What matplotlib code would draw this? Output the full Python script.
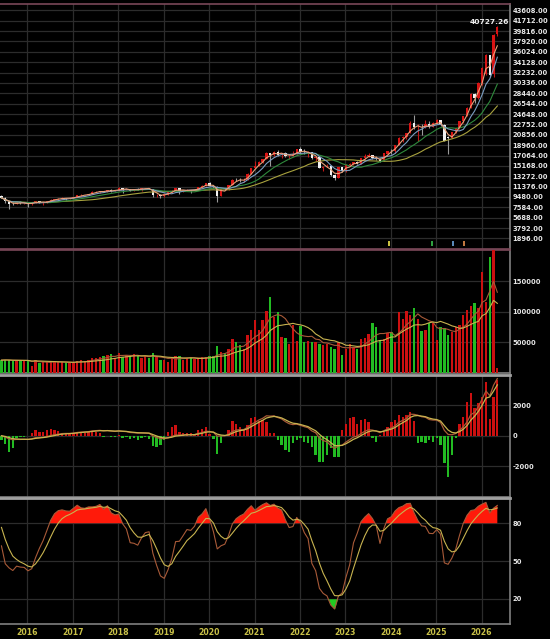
import numpy as np
import pandas as pd
import matplotlib
matplotlib.use("Agg")
import matplotlib.pyplot as plt

# monthly bars, index 0 = Jan 2016 (first bar Jun 2015, last bar May 2026)
first_idx = -7
opens = [
    9700, 9300, 8650, 8200, 8200, 8560, 8320,
    8340, 8140, 8420, 8740, 8380, 8540, 8670, 9010, 9070, 9170, 9290, 9240,
    9260, 9450, 9750, 9810, 9870, 10040, 10400, 10430, 10590, 10390, 10800, 10560,
    10650, 11100, 10820, 10920, 10660, 10880, 10840, 11060, 11070, 11000, 9800, 9890,
    9730, 9930, 10390, 10640, 11060, 10500, 10730, 10820, 10620, 10830, 11360, 11490,
    12000, 11500, 11290, 9710, 10990, 10940, 11620, 12660, 12590, 12520, 12550, 13720,
    14730, 15140, 15950, 16430, 17570, 17070, 17760, 17250, 17490, 16940, 16990, 17430,
    18220, 17670, 17650, 17690, 16590, 16810, 14830, 15000, 15100, 13420, 12950, 14880,
    14140, 15270, 15500, 15870, 15580, 16580, 16920, 17150, 16630, 16350, 16000, 17430,
    17930, 17890, 18970, 20290, 20400, 21170, 23030, 22200, 22270, 22230, 22820, 22260,
    23040, 23530, 22700, 20400, 20240, 21350, 22060, 23290, 24230, 25820, 28230, 27630,
    30400, 31900, 35400, 31900, 39300,
]
highs = [
    9760, 9400, 8700, 8500, 8700, 8660, 8450,
    8360, 8450, 8780, 8780, 8560, 8760, 9030, 9100, 9250, 9400, 9300, 9330,
    9500, 9760, 9970, 9920, 10100, 10510, 10520, 10620, 10620, 10800, 10850, 10660,
    11270, 11150, 11050, 11000, 10950, 11110, 11060, 11210, 11070, 11000, 10000, 10100,
    10000, 10390, 10700, 11100, 11100, 10800, 10970, 10800, 10900, 11370, 11600, 12000,
    12200, 11650, 11400, 11050, 11110, 11650, 12770, 12950, 12900, 12980, 13800, 14760,
    16050, 16050, 16500, 17620, 17600, 17910, 18034, 17600, 17620, 17100, 17800, 18250,
    18620, 18200, 17950, 17700, 16900, 16900, 15120, 15500, 15220, 13700, 14900, 15000,
    15500, 15700, 15900, 16000, 16600, 17280, 17460, 16940, 16900, 16600, 17460, 17950,
    18200, 19000, 20400, 20600, 21200, 23300, 24416, 22800, 22800, 23600, 23400, 23200,
    23800, 23600, 22800, 20600, 21400, 22100, 23300, 24300, 25900, 28500, 28550, 30500,
    33200, 35600, 35500, 39300, 40727.26,
]
lows = [
    9200, 8400, 7203, 8000, 8150, 8240, 8200,
    7630, 8050, 8400, 8330, 8060, 8400, 8650, 8950, 8900, 9150, 8880, 9100,
    9200, 9400, 9690, 9600, 9820, 10000, 10300, 10200, 10300, 10390, 10450, 10460,
    10600, 10200, 10800, 10500, 10500, 10680, 10600, 10880, 10850, 9400, 9500, 9320,
    9400, 9900, 10200, 10580, 10100, 10350, 10640, 10250, 10550, 10800, 11300, 11400,
    11400, 11050, 8523, 9650, 10700, 10800, 11600, 12450, 12230, 12300, 12500, 13700,
    14700, 15100, 15700, 16400, 15160, 17000, 17000, 16600, 16800, 16400, 16960, 17400,
    17400, 17350, 16700, 16500, 16000, 14820, 14300, 14900, 13400, 12629, 12950, 14000,
    14100, 15200, 15250, 15500, 15500, 16500, 16800, 16430, 16200, 15880, 16000, 17300,
    17300, 17600, 18900, 19600, 20100, 21100, 21900, 19660, 20900, 22100, 22100, 22200,
    22800, 22500, 19800, 17306, 20200, 21100, 22000, 23000, 24200, 25700, 26700, 27400,
    30000, 31800, 31500, 31500, 39000,
]
closes = [
    9323, 8665, 8175, 8181, 8554, 8320, 8338,
    8145, 8411, 8744, 8377, 8536, 8667, 9008, 9069, 9167, 9290, 9240, 9254,
    9448, 9750, 9812, 9872, 10041, 10395, 10427, 10586, 10384, 10794, 10560, 10643,
    11104, 10815, 10919, 10657, 10875, 10837, 11057, 11064, 10998, 9802, 9888, 9727,
    9932, 10389, 10641, 11063, 10498, 10731, 10824, 10618, 10830, 11358, 11490, 11997,
    11495, 11292, 9708, 10992, 10943, 11621, 12665, 12592, 12516, 12546, 13723, 14733,
    15138, 15953, 16431, 17567, 17068, 17755, 17247, 17490, 16935, 16987, 17428, 18219,
    17674, 17652, 17693, 16593, 16808, 14826, 15000, 15095, 13425, 12949, 14880, 14138,
    15265, 15504, 15868, 15579, 16579, 16916, 17145, 16634, 16354, 16001, 17434, 17931,
    17890, 18967, 20294, 20397, 21174, 23033, 22199, 22268, 22225, 22820, 22263, 23035,
    23526, 22706, 19802, 20235, 21347, 22064, 23288, 24233, 25822, 28234, 27627, 30400,
    33000, 35500, 31700, 39200, 40500,
]
volumes = [
    21000, 21500, 21000, 20000, 20500, 20000, 20000,
    21000, 11500, 22000, 16500, 17500, 18000, 19000, 18500, 18000, 17500, 17000, 16500,
    17000, 19000, 22000, 19000, 21000, 25000, 24000, 26000, 28000, 29000, 31000, 25000,
    33000, 26000, 30000, 27000, 31000, 27000, 24000, 27000, 24000, 33000, 26000, 21000,
    21000, 18000, 26000, 27000, 27000, 22000, 24000, 26000, 23000, 25000, 26000, 26000,
    27000, 27000, 44000, 34000, 33000, 40000, 55000, 50000, 45000, 40000, 62000, 71000,
    87000, 71000, 86000, 101000, 124000, 91000, 100000, 59000, 58000, 48000, 78000, 52000,
    76000, 50000, 53000, 51000, 50000, 47000, 46000, 47000, 42000, 39000, 50000, 29000,
    40000, 48000, 43000, 40000, 55000, 58000, 63000, 82000, 75000, 54000, 55000, 65000,
    67000, 51000, 100000, 89000, 101000, 94000, 107000, 89000, 69000, 71000, 82000, 81000,
    54000, 75500, 73000, 62000, 67000, 75000, 78000, 94000, 103000, 109000, 115000, 107000,
    165000, 116000, 190000, 205000, 8700,
]
# MACD histogram read bar by bar
macd_hist = [
    -250, -520, -1050, -800, -120, -90, -60,
    -40, 150, 400, 260, 220, 370, 460, 400, 330, 200, 150, 110,
    200, 230, 250, 200, 220, 250, 260, 150, -60, -40, -100, -60,
    40, -150, -100, -200, -150, -250, -150, -100, -200, -680, -720, -610,
    -280, 260, 590, 700, 260, 150, 150, 150, 80, 370, 440, 590,
    100, -220, -1200, -500, -30, 370, 980, 800, 590, 370, 700, 1130,
    1240, 960, 1020, 910, 150, 150, -280, -610, -940, -1050, -500, -280,
    -170, -390, -500, -720, -1260, -1700, -1700, -1260, -830, -1370, -1370, 370,
    800, 1130, 1240, 800, 1020, 1090, 910, -170, -390, 80, 260, 590,
    910, 1020, 1350, 1240, 1350, 1570, 980, -500, -390, -500, -280, -390,
    -170, -610, -1800, -2680, -1260, -170, 800, 1240, 2220, 2770, 1790, 2110,
    2550, 3530, 1070, 2550, 3640,
]
years = list(range(2016, 2027))
price_ticks = [1896 * i for i in range(1, 24)]
last_high_label = "40727.26"
# small event flags at the bottom of the price panel
event_idx = [95.4, 106.7, 112.3, 115.2]
event_colors = ["#c8c040", "#2fa040", "#5a8ab8", "#c07840"]

o = np.array(opens, float)
h = np.array(highs, float)
l = np.array(lows, float)
c = np.array(closes, float)
v = np.array(volumes, float)
hist = np.array(macd_hist, float)
x = np.arange(first_idx, first_idx + len(c))
up = c >= o

cs = pd.Series(c)
vs = pd.Series(v)

# indicators
ma = {n: cs.rolling(n, min_periods=1).mean() for n in (3, 6, 12, 24)}
vma6 = vs.rolling(6, min_periods=1).mean()
vma12 = vs.rolling(12, min_periods=1).mean()
dif = cs.ewm(span=6, adjust=False).mean() - cs.ewm(span=12, adjust=False).mean()
dea = dif.ewm(span=3, adjust=False).mean()

low9 = pd.Series(l).rolling(9, min_periods=1).min()
high9 = pd.Series(h).rolling(9, min_periods=1).max()
rsv = ((c - low9) / (high9 - low9) * 100).values
K = np.zeros(len(c))
D = np.zeros(len(c))
k_prev, d_prev = 82.0, 84.0
for i in range(len(c)):
    k_prev = 2 / 3 * k_prev + rsv[i] / 3
    d_prev = 2 / 3 * d_prev + k_prev / 3
    K[i], D[i] = k_prev, d_prev

# layout
W, H = 550, 639
fig = plt.figure(figsize=(W / 100, H / 100), dpi=100, facecolor="black")
xr = 510 / W


def panel(top, bottom):
    return fig.add_axes([0, 1 - bottom / H, xr, (bottom - top) / H], facecolor="black")


ax1 = panel(4, 249)
ax2 = panel(250, 373)
ax3 = panel(375, 497)
ax4 = panel(498, 624)

grid_c = "#2c2c2c"
xlim = (-7.39, 127.35)
year_pos = [12 * (y - 2016) - 0.15 for y in years]
for ax in (ax1, ax2, ax3, ax4):
    ax.set_xlim(*xlim)
    ax.set_xticks(year_pos)
    ax.grid(True, color=grid_c, lw=0.9)
    ax.set_axisbelow(True)
    ax.yaxis.tick_right()
    ax.tick_params(axis="y", length=0, pad=2, labelsize=4.9, labelcolor="#e6e6e6")
    ax.tick_params(axis="x", length=0)
    for s in ax.spines.values():
        s.set_color("#808080")
        s.set_linewidth(1.2)
    ax.spines["left"].set_visible(False)
for ax in (ax1, ax2, ax3):
    ax.set_xticklabels([])

# price panel
w = 0.62
body_lo = np.minimum(o, c)
body_h = np.abs(c - o)
cand_c = np.where(up, "#d81414", "#f2f2f2")
wick_c = np.where(up, "#c01818", "#9a9a9a")
ax1.vlines(x, l, h, colors=wick_c, lw=0.8, zorder=3)
ax1.bar(x, np.maximum(body_h, 60), width=w, bottom=body_lo, color=cand_c, zorder=4)
ma_colors = {3: "#e8a07a", 6: "#7b9ec2", 12: "#2f8a3c", 24: "#a8a23e"}
for n in (24, 12, 6, 3):
    ax1.plot(x, ma[n], color=ma_colors[n], lw=0.8, zorder=5)
ax1.set_ylim(-40, 44780)
ax1.set_yticks(price_ticks)
ax1.set_yticklabels([f"{t:.2f}" for t in price_ticks])
ax1.text(xlim[1] - 0.2, h[-1] + 250, last_high_label, ha="right", va="bottom",
         color="#f0f0f0", fontsize=5.4, fontweight="bold")
ax1.bar(event_idx, 800, width=0.5, bottom=550, color=event_colors, zorder=6)
for s in ("top", "bottom"):
    ax1.spines[s].set_color("#7a4858")

# volume panel
vol_c = np.where(up, "#cc1010", "#22bb22")
ax2.bar(x, v, width=w, color=vol_c, zorder=3)
ax2.plot(x, vma6, color="#a85a38", lw=0.8, zorder=4)
ax2.plot(x, vma12, color="#c8b450", lw=0.8, zorder=4)
ax2.set_ylim(0, 201000)
ax2.set_yticks([50000, 100000, 150000])
ax2.set_yticklabels(["50000", "100000", "150000"])
ax2.spines["top"].set_color("#7a4858")

# macd panel
osc_c = np.where(hist >= 0, "#cc1010", "#22bb22")
ax3.bar(x, hist, width=w, color=osc_c, zorder=3)
ax3.plot(x, dif, color="#a85a38", lw=0.9, zorder=4)
ax3.plot(x, dea, color="#c8b450", lw=0.9, zorder=4)
ax3.set_ylim(-4000, 3970)
ax3.set_yticks([-2000, 0, 2000])
ax3.set_yticklabels(["-2000", "0", "2000"])
ax3.spines["top"].set_color("#a0a0a0")
ax3.spines["top"].set_linewidth(2)

# KD panel
ax4.fill_between(x, 80, K, where=K > 80, interpolate=True, color="#ff1a0a", lw=0, zorder=3)
ax4.fill_between(x, 20, K, where=K < 20, interpolate=True, color="#22cc22", lw=0, zorder=3)
ax4.plot(x, K, color="#a85a38", lw=0.8, zorder=4)
ax4.plot(x, D, color="#c8b450", lw=0.8, zorder=4)
ax4.set_ylim(0, 100)
ax4.set_yticks([20, 50, 80])
ax4.set_yticklabels(["20", "50", "80"])
ax4.set_xticklabels([str(y) for y in years])
ax4.tick_params(axis="x", labelsize=5.6, labelcolor="#c8c048", pad=3)
ax4.spines["top"].set_color("#a0a0a0")
ax4.spines["top"].set_linewidth(2)

for ax in (ax1, ax2, ax3, ax4):
    for t in ax.get_yticklabels() + ax.get_xticklabels():
        t.set_fontweight("bold")

fig.savefig("out.png", dpi=100, facecolor="black")
